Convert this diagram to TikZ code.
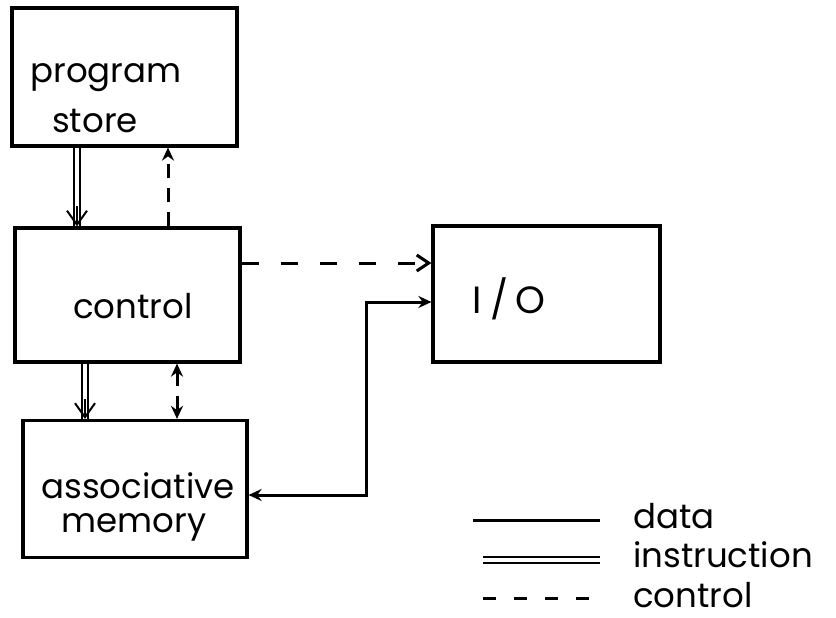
\documentclass[tikz,border=0pt]{standalone}
\usepackage{fontspec}
\setmainfont{Poppins}
\usetikzlibrary{arrows.meta}
\begin{document}
\begin{tikzpicture}[x=1pt,y=-1pt,
  box/.style={draw, line width=3.2pt, inner sep=0pt, minimum width=#1},
  lbl/.style={font=\fontsize{34}{36}\selectfont, inner sep=0pt, anchor=base},
  leg/.style={font=\fontsize{34}{36}\selectfont, inner sep=0pt, anchor=base west},
  datal/.style={line width=3pt},
  ctrll/.style={line width=3pt, dash pattern=on 17pt off 22pt},
  ctrlv/.style={line width=3pt, dash pattern=on 14pt off 10pt},
  instrl/.style={line width=2pt, double distance=4pt},
  instrtip/.style={line width=2pt, -{Straight Barb[length=14pt,width=20pt]}},
  dtip/.tip={Stealth[length=13pt,width=12pt]}]
\useasboundingbox (0,0) rectangle (836,618);

% blocks
\node[box=225pt, minimum height=138pt] (ps)  at (124.5,77)  {};
\node[box=225pt, minimum height=134pt] (ctl) at (127.5,295) {};
\node[box=224pt, minimum height=137pt] (am)  at (135,489)   {};
\node[box=227pt, minimum height=136pt] (io)  at (546.5,294) {};

% block captions
\node[lbl] (psA) at (106,83)  {program};
\node[lbl] (psB) at (95,132)  {store};
\node[lbl] (ctlT) at (133,318) {control};
\node[lbl] (amA) at (138,498) {associative};
\node[lbl] (amB) at (134,532) {memory};
\node[lbl, font=\fontsize{38}{40}\selectfont] (ioT) at (509,313) {I\hspace{9pt}/\hspace{7pt}O};

% instruction paths (double lines)
\coordinate (i1) at (77,0);
\coordinate (i2) at (85,0);
\draw[instrl] (ps.south -| i1) -- (ctl.north -| i1);
\draw[instrtip] ([yshift=20pt]ctl.north -| i1) -- (ctl.north -| i1);
\draw[instrl] (ctl.south -| i2) -- (am.north -| i2);
\draw[instrtip] ([yshift=20pt]am.north -| i2) -- (am.north -| i2);

% control paths (dashed)
\coordinate (c1) at (168,0);
\coordinate (c2) at (177,0);
\coordinate (c3) at (0,263);
\draw[ctrlv, -dtip] (ctl.north -| c1) -- (ps.south -| c1);
\draw[ctrlv, dtip-dtip] (ctl.south -| c2) -- (am.north -| c2);
\draw[ctrll, -{Straight Barb[length=12pt,width=16pt]}] (ctl.east |- c3) -- (io.west |- c3);

% data path
\coordinate (d1) at (366,495);
\coordinate (d2) at (366,302);
\draw[datal, dtip-dtip] (am.east |- d1) -- (d1) -- (d2) -- (io.west |- d2);

% legend
\coordinate (l1) at (473,520);
\coordinate (l2) at (600,520);
\draw[datal] (l1) -- (l2);
\node[leg] (lgData) at (633,528) {data};
\coordinate (l3) at (483,560);
\coordinate (l4) at (600,560);
\draw[instrl] (l3) -- (l4);
\node[leg] (lgInstr) at (633,567) {instruction};
\coordinate (l5) at (483,598);
\coordinate (l6) at (600,598);
\draw[line width=3pt, dash pattern=on 13pt off 18pt] (l5) -- (l6);
\node[leg] (lgCtrl) at (633,607) {control};
\end{tikzpicture}
\end{document}
